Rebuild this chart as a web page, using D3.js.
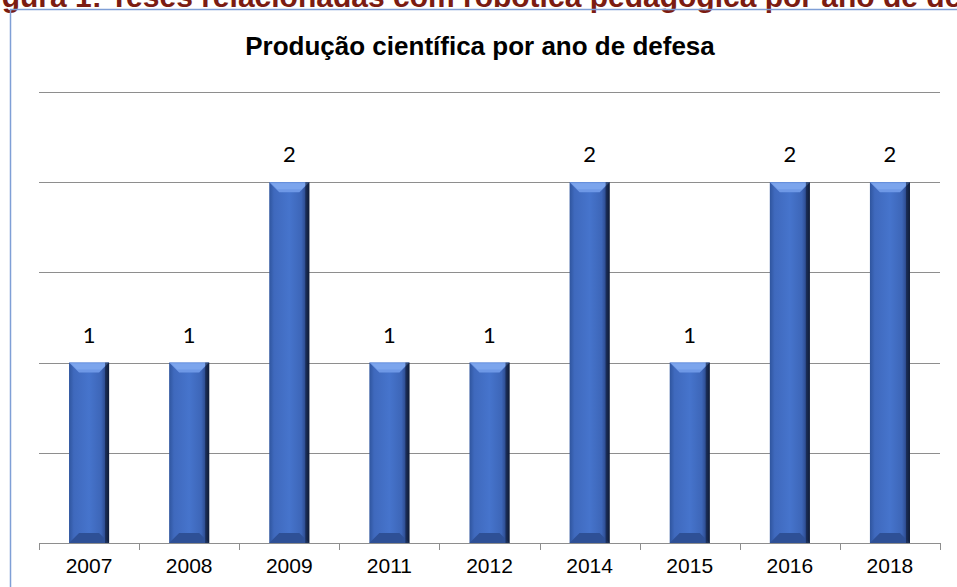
<!DOCTYPE html>
<html><head><meta charset="utf-8">
<script src="https://cdn.jsdelivr.net/npm/d3@7"></script>
<style>html,body{margin:0;padding:0;background:#fff;overflow:hidden}</style>
</head><body>
<svg id="c" width="957" height="587"></svg>
<script>
const categories = ["2007","2008","2009","2011","2012","2014","2015","2016","2018"];
const values = [1,1,2,1,1,2,1,2,2];
const yTicks = [0,0.5,1,1.5,2,2.5];
const chartTitle = "Produção científica por ano de defesa";
const caption = "Figura 1: Teses relacionadas com robótica pedagógica por ano de defesa";

const svg = d3.select("#c");
const m = {left:39, right:940, top:92, bottom:543};

const defs = svg.append("defs");
const g1 = defs.append("linearGradient").attr("id","barGrad").attr("x1","0").attr("x2","1").attr("y1","0").attr("y2","0");
[["0%","#2f559e"],["12%","#3f69bd"],["50%","#4674cc"],["80%","#3d66b8"],["92%","#2a4789"],["100%","#111d38"]]
  .forEach(([o,c])=>g1.append("stop").attr("offset",o).attr("stop-color",c));

// caption (clipped at top, as in the reference)
svg.append("text").attr("x",-25).attr("y",7)
  .attr("font-family","Liberation Sans, Arial, sans-serif").attr("font-weight","bold")
  .attr("font-size",30).attr("fill","#7b1c12").text(caption);

// frame
svg.append("rect").attr("x",10.5).attr("y",9.5).attr("width",1000).attr("height",700)
  .attr("fill","none").attr("stroke","#7f9fd6").attr("stroke-width",1.5);

const x = d3.scaleBand().domain(categories).range([m.left,m.right]).paddingInner(0.6).paddingOuter(0.3);
const xb = d3.scaleBand().domain(categories).range([m.left,m.right]);
const y = d3.scaleLinear().domain([0,2.5]).range([m.bottom,m.top]);

// gridlines
svg.append("g").selectAll("line").data(yTicks.filter(d=>d>0)).join("line")
  .attr("x1",m.left).attr("x2",m.right)
  .attr("y1",d=>Math.round(y(d))+0.5).attr("y2",d=>Math.round(y(d))+0.5)
  .attr("stroke","#8e8e8e").attr("stroke-width",1);

// title
svg.append("text").attr("x",480).attr("y",55).attr("text-anchor","middle")
  .attr("font-family","Liberation Sans, Arial, sans-serif").attr("font-weight","bold")
  .attr("font-size",26).attr("fill","#000").text(chartTitle);

// bars
const bars = svg.append("g").selectAll("g").data(categories.map((c,i)=>({c,v:values[i]}))).join("g");
bars.append("rect")
  .attr("x",d=>x(d.c)).attr("y",d=>y(d.v)).attr("width",x.bandwidth())
  .attr("height",d=>y(0)-y(d.v)).attr("fill","url(#barGrad)");
const bev = 10;
bars.append("path").attr("d",d=>{
  const x0=x(d.c), x1=x0+x.bandwidth(), t=y(d.v);
  return `M${x0},${t}L${x1},${t}L${x1-bev},${t+bev}L${x0+bev},${t+bev}Z`;
}).attr("fill","#6e98e6");
bars.append("path").attr("d",d=>{
  const x0=x(d.c), x1=x0+x.bandwidth(), t=y(d.v);
  return `M${x0+2},${t+1}L${x1-2},${t+1}L${x1-bev+2},${t+bev-3}L${x0+bev-2},${t+bev-3}Z`;
}).attr("fill","#86aef2").attr("opacity",0.6);
bars.append("path").attr("d",d=>{
  const x0=x(d.c), x1=x0+x.bandwidth(), b=y(0);
  return `M${x0},${b}L${x1},${b}L${x1-bev},${b-bev}L${x0+bev},${b-bev}Z`;
}).attr("fill","#2e5096");
bars.append("rect").attr("x",d=>x(d.c)+x.bandwidth()-4).attr("y",d=>y(d.v)).attr("width",4)
  .attr("height",d=>y(0)-y(d.v)).attr("fill","#0f1a33").attr("opacity",0.6);

// value labels
bars.append("text").attr("x",d=>x(d.c)+x.bandwidth()/2).attr("y",d=>y(d.v)-20)
  .attr("text-anchor","middle").attr("font-family","Lato, Carlito, Calibri, sans-serif")
  .attr("font-size",22).attr("fill","#000").text(d=>d.v);

// x axis
const ax = svg.append("g");
ax.append("line").attr("x1",m.left).attr("x2",m.right).attr("y1",m.bottom+0.5).attr("y2",m.bottom+0.5)
  .attr("stroke","#8e8e8e");
const bounds = categories.map(c=>xb(c)).concat([m.right]);
ax.selectAll("line.t").data(bounds).join("line").attr("class","t")
  .attr("x1",d=>Math.round(d)+0.5).attr("x2",d=>Math.round(d)+0.5)
  .attr("y1",m.bottom).attr("y2",m.bottom+7).attr("stroke","#8e8e8e");
ax.selectAll("text").data(categories).join("text")
  .attr("x",d=>xb(d)+xb.bandwidth()/2).attr("y",573).attr("text-anchor","middle")
  .attr("font-family","Liberation Sans, Arial, sans-serif").attr("font-size",21).attr("fill","#000")
  .text(d=>d);
</script>
</body></html>
